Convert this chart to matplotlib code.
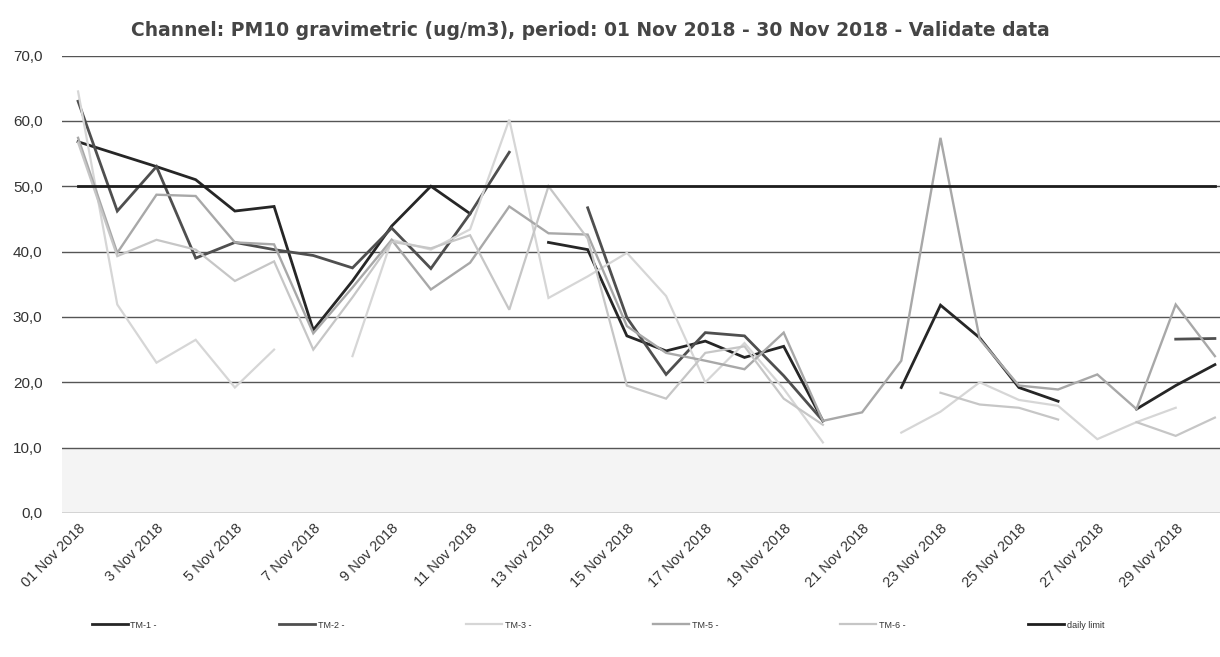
import numpy as np
import matplotlib.pyplot as plt

nan = np.nan

# dates 1..30 Nov 2018
days = np.arange(1, 31)
tick_days = days[::2]
tick_labels = ["01 Nov 2018"] + ["%d Nov 2018" % d for d in tick_days[1:]]

# PM10 values (ug/m3), NaN = no data
tm1 = [56.8, 54.9, 53.0, 51.0, 46.2, 46.9, 28.0, 35.5, 43.9, 50.0,
       45.8, nan, 41.4, 40.3, 27.1, 24.8, 26.3, 23.8, 25.5, 14.1,
       nan, 19.2, 31.8, 26.8, 19.2, 17.1, nan, 15.9, 19.5, 22.7]
tm2 = [63.0, 46.2, 53.0, 39.0, 41.4, 40.3, 39.4, 37.5, 43.6, 37.4,
       45.8, 55.2, nan, 46.7, 29.9, 21.2, 27.6, 27.1, 21.0, 14.1,
       nan, nan, nan, nan, nan, nan, nan, nan, 26.6, 26.7]
tm3 = [64.5, 31.9, 23.0, 26.5, 19.2, 25.0, nan, 24.0, 41.8, 40.3,
       43.4, 60.2, 32.9, 36.2, 39.8, 33.2, 20.0, 26.0, 19.0, 10.8,
       nan, 12.3, 15.5, 20.0, 17.3, 16.4, 11.3, 13.9, 16.1, nan]
tm5 = [57.4, 39.8, 48.7, 48.5, 41.4, 41.1, 27.5, 34.5, 41.8, 34.2,
       38.3, 46.9, 42.8, 42.6, 28.6, 24.5, 23.3, 22.0, 27.6, 14.1,
       15.4, 23.3, 57.4, 26.6, 19.5, 18.9, 21.2, 15.9, 31.9, 24.0]
tm6 = [56.7, 39.3, 41.8, 40.3, 35.5, 38.5, 25.0, 33.0, 41.5, 40.5,
       42.5, 31.1, 50.0, 42.0, 19.5, 17.5, 24.5, 25.5, 17.5, 13.5,
       nan, nan, 18.4, 16.6, 16.1, 14.3, nan, 13.9, 11.8, 14.6]
daily_limit = [50.0] * 30

series = [
    ("TM-1 -", tm1, "#262626", 2.0),
    ("TM-2 -", tm2, "#4f4f4f", 2.0),
    ("TM-3 -", tm3, "#d6d6d6", 1.6),
    ("TM-5 -", tm5, "#a8a8a8", 1.7),
    ("TM-6 -", tm6, "#c6c6c6", 1.6),
    ("daily limit", daily_limit, "#1e1e1e", 2.0),
]

fig = plt.figure(figsize=(12.2, 6.57), dpi=100)
ax = fig.add_axes([62 / 1220, 1 - 513 / 657, 1158 / 1220, (513 - 55.5) / 657])

# faint grey band at the bottom like the scanned original
ax.axhspan(0, 10, color="#f4f4f4", zorder=0, lw=0)

for label, vals, col, lw in series:
    ax.plot(days, vals, color=col, lw=lw, label=label, solid_joinstyle="miter")

ax.set_ylim(0, 70)
ax.set_xlim(0.59, 30.13)
ax.set_yticks(np.arange(0, 71, 10))
ax.set_yticklabels([("%.1f" % v).replace(".", ",") for v in np.arange(0, 71, 10)])
ax.set_xticks(tick_days)
ax.set_xticklabels(tick_labels, rotation=45, ha="right", rotation_mode="anchor")
ax.tick_params(axis="both", length=0, labelsize=10.5, labelcolor="#333333",
               labelfontfamily="Liberation Sans")
ax.tick_params(axis="y", labelsize=11, pad=14)
ax.tick_params(axis="x", pad=6)

ax.grid(axis="y", color="#555555", lw=1.0, zorder=0.5)
ax.set_axisbelow(True)
for sp in ax.spines.values():
    sp.set_visible(False)

fig.text(0.484, 1 - 30 / 657,
         "Channel: PM10 gravimetric (ug/m3), period: 01 Nov 2018 - 30 Nov 2018 - Validate data",
         ha="center", va="center", fontsize=13.5, fontweight="bold", color="#454545")

fig.legend(loc="center", bbox_to_anchor=(0.49, 1 - 625 / 657), ncol=6, frameon=False,
           prop={"family": "Liberation Sans", "size": 6.5}, handlelength=4.0,
           handletextpad=0.3, columnspacing=13.5, labelcolor="#333333")

fig.savefig("out.png", dpi=100, facecolor="white")
